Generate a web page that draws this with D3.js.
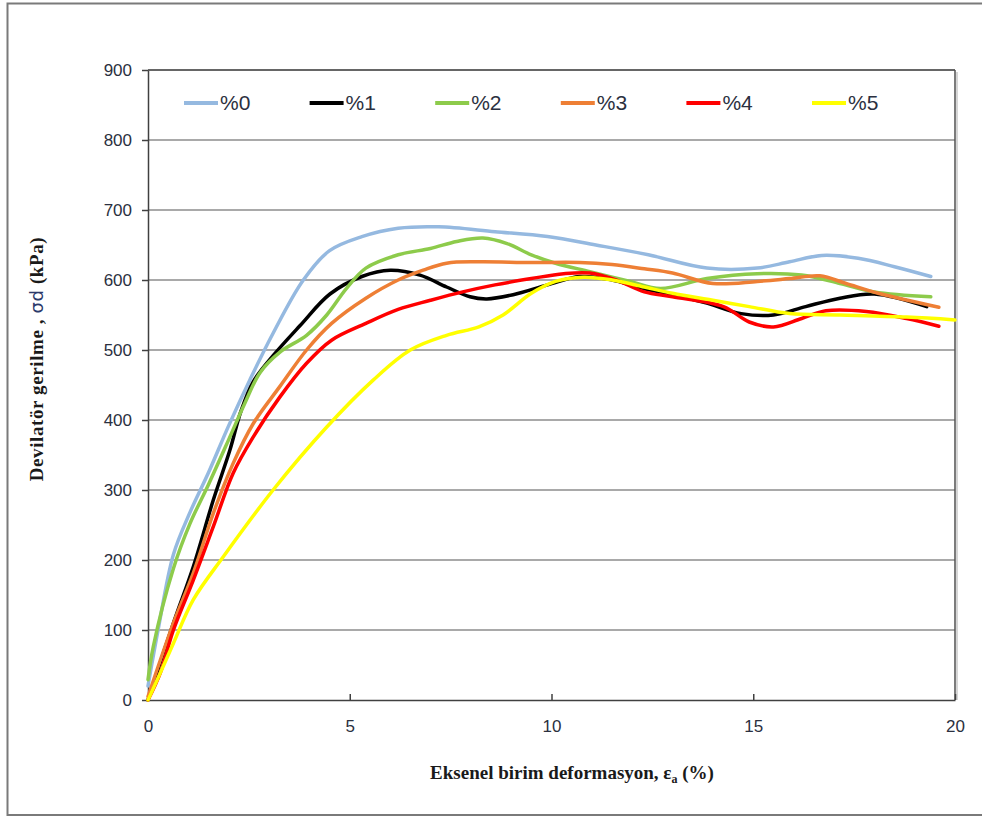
<!DOCTYPE html>
<html>
<head>
<meta charset="utf-8">
<script src="https://cdn.jsdelivr.net/npm/d3@7"></script>
<style>
  body { margin: 0; background: #fff; }
  svg { display: block; }
</style>
</head>
<body>
<div id="chart"></div>
<script>
const width = 982;
const height = 818;

const seriesNames = ["%0", "%1", "%2", "%3", "%4", "%5"];
const seriesColors = ["#95B9E0", "#000000", "#8DCB4B", "#EE7F35", "#FF0000", "#FFFF00"];

const xTicks = [0, 5, 10, 15, 20];
const yTicks = [0, 100, 200, 300, 400, 500, 600, 700, 800, 900];

// strain (%) , deviator stress (kPa)
const s0 = [[0,20],[0.25,100],[0.63,208],[1.04,268],[1.5,325],[2.0,392],[2.53,458],[3.1,524],[3.85,600],[4.5,642],[5.3,662],[6.2,674],[7.2,676],[8.6,669],[9.9,662],[11.1,650],[12.4,636],[13.85,617],[15.1,617],[15.9,626],[16.7,635],[17.6,631],[18.5,619],[19.4,605]];
const s1 = [[0,0],[0.63,110],[1.12,190],[1.62,286],[2.03,357],[2.3,412],[2.61,455],[3.1,492],[3.77,535],[4.51,580],[5.3,605],[6.0,614],[6.74,607],[7.4,590],[7.98,576],[8.4,573],[9.05,579],[9.9,593],[10.7,605],[11.5,600],[12.2,589],[13.0,579],[13.85,567],[14.7,552],[15.5,550],[16.3,562],[17.15,574],[18.0,580],[19.3,562]];
const s2 = [[0,29],[0.13,76],[0.63,188],[1.04,252],[1.5,308],[2.0,372],[2.4,424],[2.78,468],[3.27,497],[3.93,521],[4.43,550],[4.92,588],[5.4,617],[6.2,636],[7.0,645],[7.65,655],[8.3,660],[8.9,652],[9.5,636],[10.1,624],[10.95,612],[11.95,598],[12.7,588],[13.85,602],[15.1,609],[16.2,607],[17.15,595],[18.0,583],[19.4,576]];
const s3 = [[0,5],[0.63,110],[1.12,181],[1.62,267],[2.11,338],[2.61,395],[3.27,448],[3.93,500],[4.55,538],[5.4,574],[6.2,600],[6.82,614],[7.4,624],[8.2,626],[9.5,625],[10.7,625],[11.5,622],[12.3,616],[13.0,610],[14.0,595],[15.1,598],[15.9,602],[16.65,606],[17.3,595],[18.1,581],[19.6,561]];
const s4 = [[0,0],[0.3,38],[0.63,100],[1.12,171],[1.62,248],[2.11,324],[2.61,376],[3.27,433],[3.93,481],[4.55,514],[5.4,538],[6.2,558],[7.0,571],[7.8,583],[8.6,593],[9.5,602],[10.3,609],[10.95,610],[11.6,600],[12.3,583],[13.0,576],[14.26,562],[14.9,540],[15.5,533],[16.2,545],[16.8,556],[17.8,555],[18.8,545],[19.6,534]];
const s5 = [[0,0],[0.3,38],[0.63,81],[1.12,143],[1.87,205],[3.1,300],[4.43,390],[5.58,457],[6.5,500],[7.4,521],[8.2,533],[8.8,550],[9.5,581],[10.1,598],[10.8,604],[11.5,600],[12.3,590],[13.0,581],[14.0,571],[14.9,562],[15.9,552],[17.15,550],[18.8,547],[20,543]];
const seriesData = [s0, s1, s2, s3, s4, s5];

const plotLeft = 148, plotRight = 955, plotTop = 70, plotBottom = 700;

const svg = d3.select("#chart")
    .append("svg")
    .attr("width", width)
    .attr("height", height);

// outer frame
svg.append("rect")
    .attr("x", 7.5).attr("y", 3.5)
    .attr("width", 1000).attr("height", 811.5)
    .attr("fill", "#fff")
    .attr("stroke", "#7a7a7a")
    .attr("stroke-width", 2);

const x = d3.scaleLinear().domain([0, 20]).range([plotLeft, plotRight]);
const y = d3.scaleLinear().domain([0, 900]).range([plotBottom, plotTop]);

// gridlines
svg.append("g")
    .selectAll("line")
    .data(yTicks.filter(d => d > 0))
    .enter()
    .append("line")
    .attr("x1", plotLeft).attr("x2", plotRight)
    .attr("y1", d => y(d)).attr("y2", d => y(d))
    .attr("stroke", "#8c8c8c")
    .attr("stroke-width", 1.5);

// plot box right and top edges
svg.append("line")
    .attr("x1", plotRight).attr("x2", plotRight)
    .attr("y1", plotTop).attr("y2", plotBottom)
    .attr("stroke", "#505050")
    .attr("stroke-width", 1.5);
svg.append("line")
    .attr("x1", plotRight + 2).attr("x2", plotRight + 2)
    .attr("y1", plotTop + 2).attr("y2", plotBottom)
    .attr("stroke", "#c8c8c8")
    .attr("stroke-width", 1.5);
svg.append("line")
    .attr("x1", plotLeft).attr("x2", plotRight)
    .attr("y1", plotTop).attr("y2", plotTop)
    .attr("stroke", "#505050")
    .attr("stroke-width", 1.5);

const tickFont = "'Liberation Sans Narrow', 'Liberation Sans', sans-serif";

// y axis
const yAxis = svg.append("g")
    .attr("transform", `translate(${plotLeft},0)`)
    .call(d3.axisLeft(y).tickValues(yTicks).tickSize(6).tickPadding(10).tickSizeOuter(0));
yAxis.select(".domain").attr("stroke", "#404040").attr("stroke-width", 1.5);
yAxis.selectAll(".tick line").attr("stroke", "#404040").attr("stroke-width", 1.5);
yAxis.selectAll("text")
    .attr("fill", "#2b3040")
    .style("font-family", tickFont)
    .style("font-size", "17px");

// x axis
const xAxis = svg.append("g")
    .attr("transform", `translate(0,${plotBottom})`)
    .call(d3.axisBottom(x).tickValues(xTicks).tickSize(-6).tickPadding(20).tickSizeOuter(0));
xAxis.select(".domain").attr("stroke", "#404040").attr("stroke-width", 1.5);
xAxis.selectAll(".tick line").attr("stroke", "#404040").attr("stroke-width", 1.5);
xAxis.selectAll("text")
    .attr("fill", "#2b3040")
    .style("font-family", tickFont)
    .style("font-size", "17px");

// series lines
const line = d3.line()
    .x(d => x(d[0]))
    .y(d => y(d[1]))
    .curve(d3.curveCatmullRom.alpha(0.5));

svg.append("g")
    .selectAll("path")
    .data(seriesData)
    .enter()
    .append("path")
    .attr("d", line)
    .attr("fill", "none")
    .attr("stroke", (d, i) => seriesColors[i])
    .attr("stroke-width", 3.5)
    .attr("stroke-linejoin", "round")
    .attr("stroke-linecap", "round");

// legend
const legend = svg.append("g")
    .selectAll("g")
    .data(seriesNames)
    .enter()
    .append("g")
    .attr("transform", (d, i) => `translate(${184 + i * 125.6},103)`);
legend.append("line")
    .attr("x1", 0).attr("x2", 34)
    .attr("stroke", (d, i) => seriesColors[i])
    .attr("stroke-width", 4);
legend.append("text")
    .attr("x", 36).attr("y", 7)
    .attr("fill", "#2b3040")
    .style("font-family", tickFont)
    .style("font-size", "21px")
    .text(d => d);

// axis titles
const xTitle = svg.append("text")
    .attr("x", 572).attr("y", 779)
    .attr("text-anchor", "middle")
    .attr("fill", "#1a1a1a")
    .style("font-family", "'Liberation Serif', serif")
    .style("font-weight", "bold")
    .style("font-size", "19px");
xTitle.append("tspan").text("Eksenel birim deformasyon, ε");
xTitle.append("tspan").attr("dy", 4).style("font-size", "12px").text("a");
xTitle.append("tspan").attr("dy", -4).text(" (%)");

const yTitle = svg.append("text")
    .attr("transform", "translate(43,359) rotate(-90)")
    .attr("text-anchor", "middle")
    .attr("fill", "#1a1a1a")
    .style("font-family", "'Liberation Serif', serif")
    .style("font-weight", "bold")
    .style("font-size", "19px")
    .style("letter-spacing", "0.6px");
yTitle.append("tspan").text("Devilatör gerilme , ");
yTitle.append("tspan")
    .attr("fill", "#2b3a6a")
    .style("font-family", "'DejaVu Sans', sans-serif")
    .style("font-weight", "normal")
    .style("font-size", "18px")
    .text("σd");
yTitle.append("tspan").text(" (kPa)");
</script>
</body>
</html>
